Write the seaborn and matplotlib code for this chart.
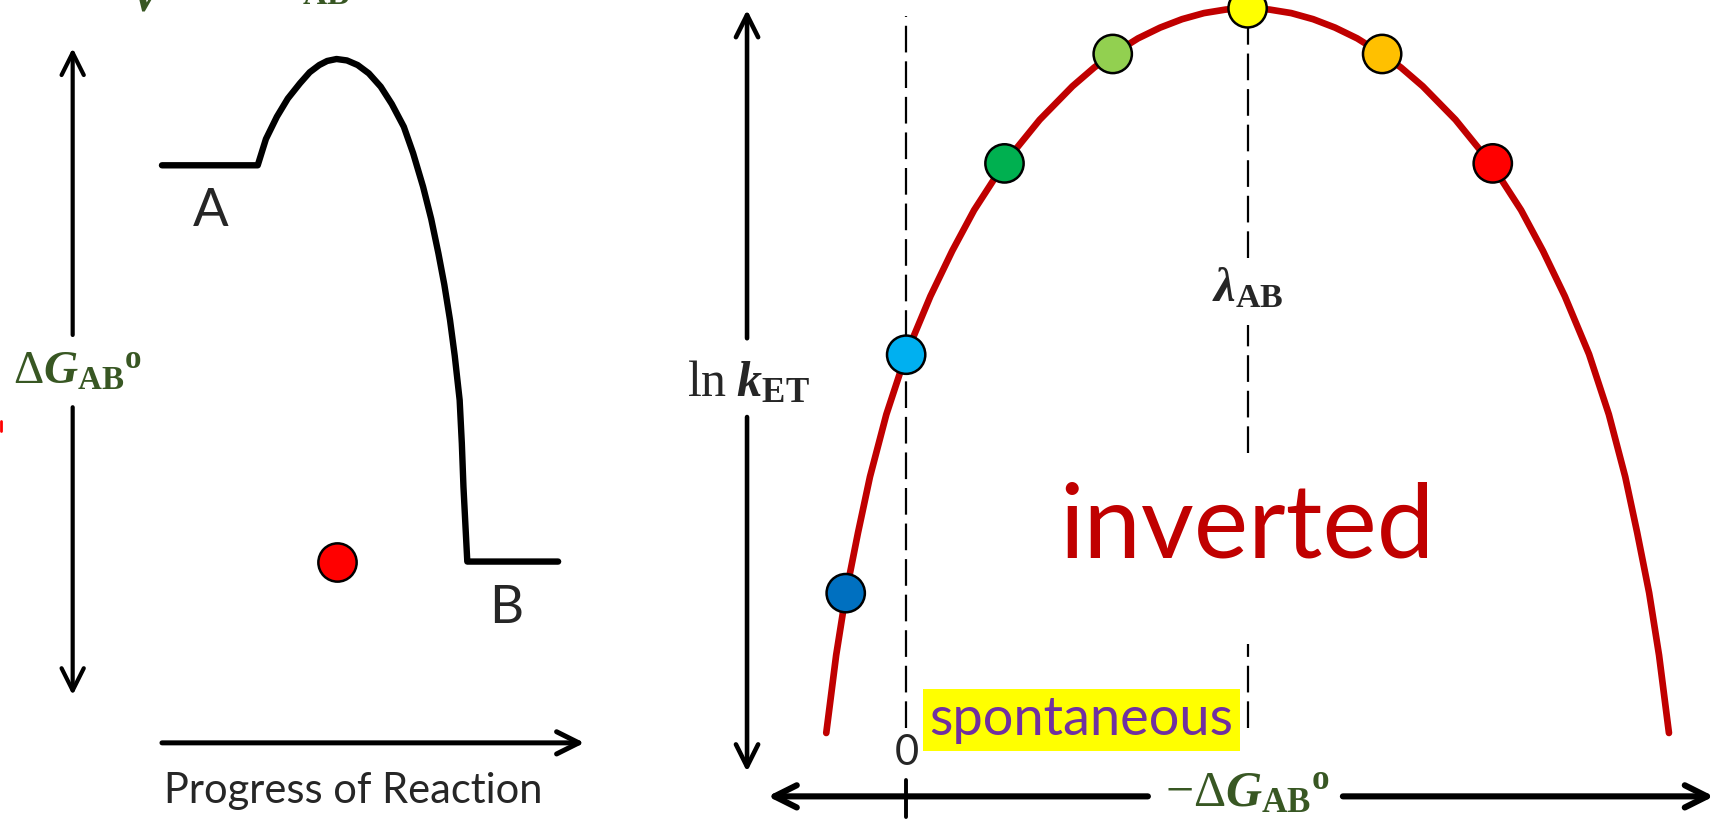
import matplotlib
matplotlib.use('Agg')
import matplotlib.pyplot as plt
import seaborn as sns

# ---- left panel: reaction energy profile (progress 0..1, energy A=1, B=0) ----
path_progress = [0.0, 0.2417, 0.2624, 0.2901, 0.3177, 0.3483, 0.3729, 0.3970,
                 0.4171, 0.4406, 0.4669, 0.4939, 0.5221, 0.5522, 0.5801, 0.6105,
                 0.6340, 0.6591, 0.6796, 0.6978, 0.7127, 0.7271, 0.7390, 0.7514,
                 0.7569, 0.7610, 0.7660, 0.7707, 1.0]
path_energy = [1.0, 1.0, 1.0663, 1.1227, 1.1685, 1.2069, 1.2348, 1.2530,
               1.2633, 1.2682, 1.2646, 1.2530, 1.2320, 1.1983, 1.1547, 1.0972,
               1.0304, 0.9459, 0.8646, 0.7776, 0.6989, 0.6094, 0.5193, 0.4075,
               0.2983, 0.1887, 0.0912, 0.0, 0.0]
state_labels = ['A', 'B']
state_x = [0.1243, 0.870]
state_y = [0.884, -0.1177]
marker_progress = [0.4406]
marker_energy = [0.0]

# ---- right panel: ln k_ET against -dG (in units of lambda) ----
curve_dg = [-0.234, -0.205, -0.176, -0.141, -0.106, -0.058, 0.0, 0.071, 0.135, 0.199,
            0.288, 0.391, 0.487, 0.551, 0.606, 0.679, 0.744, 0.808, 0.872, 0.936,
            1.0,
            1.064, 1.128, 1.192, 1.256, 1.321, 1.394, 1.449, 1.513, 1.609, 1.712,
            1.801, 1.865, 1.929, 2.0, 2.058, 2.106, 2.141, 2.176, 2.205, 2.234]
curve_lnk = [0.0, 1.073, 1.934, 2.764, 3.535, 4.396, 5.227, 6.027, 6.653, 7.215,
             7.864, 8.462, 8.924, 9.184, 9.370, 9.585, 9.734, 9.850, 9.934, 9.983,
             10.0,
             9.983, 9.934, 9.850, 9.734, 9.585, 9.370, 9.184, 8.924, 8.462, 7.864,
             7.215, 6.653, 6.027, 5.227, 4.396, 3.535, 2.764, 1.934, 1.073, 0.0]
dot_dg = [-0.177, 0.0, 0.288, 0.605, 1.0, 1.394, 1.718]
dot_lnk = [1.93, 5.22, 7.86, 9.37, 10.0, 9.37, 7.86]
dot_colors = ['#0070C0', '#00B0F0', '#00B050', '#92D050', '#FFFF00', '#FFC000', '#FF0000']

# dashed guides at dG = 0 and dG = lambda (broken around the labels)
guide_x = [0.0, 1.0, 1.0, 1.0]
guide_lo = [0.07, 6.55, 3.86, 0.07]
guide_hi = [9.89, 9.89, 5.63, 1.23]

GREEN = '#385723'
DARK_RED = '#C00000'

sns.set_theme(style='white')
plt.rcParams['font.family'] = ['Lato', 'DejaVu Sans']
plt.rcParams['mathtext.fontset'] = 'custom'
plt.rcParams['mathtext.rm'] = 'Liberation Serif'
plt.rcParams['mathtext.it'] = 'Liberation Serif:italic:bold'
plt.rcParams['mathtext.bf'] = 'Liberation Serif:bold'

fig = plt.figure(figsize=(17.16, 8.21), dpi=100)
ax_l = fig.add_axes([0, 0, 600 / 1568, 1])
ax_r = fig.add_axes([600 / 1568, 0, 968 / 1568, 1])
for ax in (ax_l, ax_r):
    ax.set_axis_off()

ax_l.set_xlim(-0.40884, 1.24862)
ax_l.set_ylim(-0.65470, 1.41713)
ax_r.set_xlim(-0.73077, 2.37179)
ax_r.set_ylim(-1.2145, 10.1148)


def arrow(ax, tail, tip, lw):
    ax.annotate('', xy=tip, xytext=tail, annotation_clip=False,
                arrowprops=dict(arrowstyle='->,head_length=0.8,head_width=0.4',
                                mutation_scale=20, lw=lw, color='black',
                                shrinkA=0, shrinkB=0))


# ---------- left panel ----------
sns.lineplot(x=path_progress, y=path_energy, ax=ax_l, sort=False, estimator=None,
             color='black', lw=4.6, solid_joinstyle='round')
sns.scatterplot(x=marker_progress, y=marker_energy, ax=ax_l, color='#FF0000',
                s=760, edgecolor='black', linewidth=1.8, zorder=5)
for lab, sx, sy in zip(state_labels, state_x, state_y):
    ax_l.text(sx, sy, lab, fontsize=38, ha='center', va='center')

# energy double arrow, broken around its label
arrow(ax_l, (-0.2254, 0.5718), (-0.2254, 1.2956), 3.0)
arrow(ax_l, (-0.2254, 0.3895), (-0.2254, -0.3370), 3.0)
ax_l.text(-0.2127, 0.4807, r'$\Delta G_{\mathbf{AB}}{}^{\mathbf{o}}$',
          fontsize=34, color=GREEN, ha='center', va='center')

arrow(ax_l, (0.0, -0.4575), (1.0663, -0.4575), 3.6)
ax_l.text(0.482, -0.6105, 'Progress of Reaction', fontsize=30,
          ha='center', va='baseline')
ax_l.plot([-0.406, -0.406], [0.33, 0.355], color='#FF0000', lw=2, clip_on=False)

# ---------- right panel ----------
ax_r.vlines(guide_x, guide_lo, guide_hi, colors='black', lw=1.6,
            linestyles=[(0, (12, 4))])
sns.lineplot(x=curve_dg, y=curve_lnk, ax=ax_r, sort=False, estimator=None,
             color=DARK_RED, lw=4.8, solid_joinstyle='round')
sns.scatterplot(x=dot_dg, y=dot_lnk, ax=ax_r, hue=list(range(len(dot_dg))),
                palette=dot_colors, legend=False, s=760, edgecolor='black',
                linewidth=1.8, zorder=5, clip_on=False)

arrow(ax_r, (-0.4660, 5.447), (-0.4660, 9.979), 3.3)
arrow(ax_r, (-0.4660, 4.360), (-0.4660, -0.5347), 3.3)
ax_r.text(-0.4628, 4.843, r'$\mathrm{ln}\;k_{\mathbf{ET}}$', fontsize=36,
          ha='center', va='center')

arrow(ax_r, (0.708, -0.8746), (-0.4054, -0.8746), 4.4)
arrow(ax_r, (1.279, -0.8746), (2.3654, -0.8746), 4.4)
ax_r.plot([0.0, 0.0], [-0.6435, -1.157], color='black', lw=2.8)
ax_r.text(1.0, -1.018, r'$-\Delta G_{\mathbf{AB}}{}^{\mathbf{o}}$',
          fontsize=36, color=GREEN, ha='center', va='baseline')

ax_r.text(0.003, -0.278, '0', fontsize=30, ha='center', va='center')
ax_r.text(1.0, 6.149, r'$\lambda_{\mathbf{AB}}$', fontsize=35,
          ha='center', va='center')
ax_r.text(0.997, 2.426, 'inverted', fontsize=74, color=DARK_RED,
          ha='center', va='baseline')
ax_r.text(0.5128, 0.183, 'spontaneous', fontsize=39, color='#7030A0',
          ha='center', va='center',
          bbox=dict(boxstyle='square,pad=0.12', facecolor='#FFFF00', edgecolor='none'))

# pieces of an equation cut off by the top edge
fig.text(0.0861, 0.9867, r'$V$', fontsize=34, color=GREEN, ha='center', va='baseline')
fig.text(0.1897, 0.9947, r'$\mathbf{AB}$', fontsize=24, color=GREEN,
         ha='center', va='baseline')

fig.savefig('out.png', dpi=100)
plt.close(fig)
